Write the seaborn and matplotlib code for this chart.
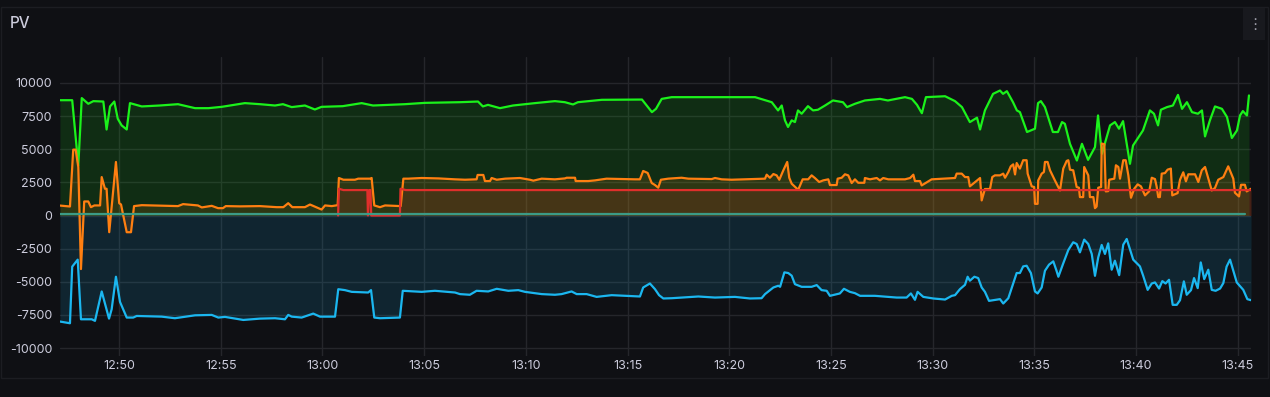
import pandas as pd
import matplotlib
matplotlib.use("Agg")
import matplotlib.pyplot as plt
import matplotlib.dates as mdates
from matplotlib.patches import Rectangle
import seaborn as sns

# time in minutes after 12:45, values in W
green_t = [2.10, 2.70, 3.00, 3.17, 3.49, 3.74, 4.23, 4.39, 4.56, 4.77, 4.94, 5.13, 5.38, 5.54,
           6.12, 7.00, 7.90, 8.74, 9.40, 10.05, 11.19, 11.93, 12.67, 13.06, 13.49, 14.14, 14.63,
           14.96, 16.00, 16.93, 17.49, 19.06, 20.04, 21.76, 22.65, 22.89, 23.14, 23.73, 24.37,
           25.45, 26.43, 26.92, 27.32, 27.56, 28.74, 30.71, 31.00, 31.20, 31.40, 31.68, 32.17,
           36.27, 37.09, 37.40, 37.58, 37.74, 37.89, 38.07, 38.23, 38.38, 38.56, 38.87, 39.12,
           39.36, 39.71, 40.10, 40.59, 40.79, 41.18, 41.67, 42.41, 42.80, 43.64, 43.98, 44.23,
           44.47, 44.67, 45.61, 46.10, 46.44, 46.83, 47.18, 47.33, 47.57, 47.97, 48.31, 48.46,
           48.65, 48.95, 49.14, 49.29, 49.64, 50.03, 50.18, 50.32, 50.52, 50.91, 51.16, 51.36,
           51.50, 51.75, 52.09, 52.34, 52.64, 52.98, 53.13, 53.32, 53.72, 53.96, 54.16, 54.36,
           54.70, 54.85, 55.34, 55.68, 55.88, 56.08, 56.22, 56.52, 56.81, 57.06, 57.26, 57.50,
           57.75, 58.04, 58.24, 58.39, 58.63, 58.88, 59.22, 59.47, 59.71, 59.96, 60.11, 60.25,
           60.45, 60.55]
green_v = [8700, 8700, 3780, 8860, 8430, 8630, 8600, 6490, 8230, 8600, 7300, 6800, 6490, 8480,
           8230, 8300, 8400, 8100, 8100, 8200, 8480, 8400, 8300, 8400, 8180, 8300, 8000,
           8200, 8250, 8480, 8300, 8400, 8500, 8550, 8600, 8230, 8350, 8100, 8300,
           8480, 8630, 8550, 8380, 8550, 8730, 8750, 8180, 7800, 8050, 8800, 8930,
           8930, 8550, 7930, 8300, 7180, 6680, 7180, 7050, 7930, 7680, 8250, 7930,
           7980, 8300, 8680, 8550, 8180, 8430, 8680, 8800, 8680, 8930, 8800, 8350,
           7720, 8930, 9000, 8630, 8180, 7050, 7380, 6490, 7930, 9180, 9430, 9180,
           9380, 8550, 7930, 7800, 6300, 6550, 8480, 8630, 8180, 6300, 6300, 7050,
           6920, 5410, 4150, 5410, 4200, 5160, 7550, 4660, 6800, 7050, 6550, 7120,
           3900, 5280, 6420, 7930, 7680, 6800, 7980, 8180, 8300, 9100, 8050, 8550,
           7800, 7680, 7930, 5970, 7180, 8230, 8050, 7430, 5850, 6420, 7550, 7880,
           7550, 9060]

orange_t = [2.10, 2.59, 2.75, 2.87, 3.00, 3.13, 3.29, 3.49, 3.62, 3.79, 4.07, 4.15, 4.31, 4.39,
            4.52, 4.85, 5.01, 5.10, 5.38, 5.59, 5.74, 6.12, 7.90, 8.15, 8.88, 9.07, 9.56, 9.87,
            10.11, 10.25, 10.95, 11.93, 12.75, 13.08, 13.32, 13.52, 14.14, 14.39, 14.96, 15.13,
            15.46, 15.75, 15.81, 16.03, 16.60, 16.76, 17.34, 17.42, 17.55, 17.83, 18.08, 18.85,
            18.98, 19.22, 19.88, 20.70, 21.52, 22.01, 22.58, 22.63, 22.91, 22.99, 23.24, 23.32,
            23.57, 23.98, 24.71, 25.20, 25.37, 25.78, 26.43, 26.92, 27.01, 27.42, 27.45, 28.07,
            28.40, 28.97, 30.37, 30.61, 30.77, 30.99, 31.19, 31.35, 31.51, 31.64, 32.00, 32.66,
            32.99, 34.14, 34.30, 34.63, 35.12, 35.77, 36.76, 36.84, 37.00, 37.17, 37.33, 37.46,
            37.66, 37.85, 37.95, 38.07, 38.39, 38.61, 38.88, 39.05, 39.21, 39.42, 39.62, 39.87,
            39.95, 40.28, 40.33, 40.53, 40.69, 40.85, 41.02, 41.18, 41.34, 41.64, 41.67, 41.92,
            42.25, 42.41, 42.57, 42.82, 43.64, 43.89, 44.05, 44.13, 44.38, 44.46, 44.95, 45.52,
            46.10, 46.18, 46.43, 46.59, 46.75, 46.83, 47.33, 47.41, 47.57, 47.82, 47.93, 48.06,
            48.31, 48.47, 48.56, 48.72, 48.84, 48.96, 49.05, 49.13, 49.29, 49.45, 49.62, 49.67,
            49.87, 49.99, 50.03, 50.16, 50.19, 50.36, 50.47, 50.52, 50.65, 50.77, 51.01, 51.26,
            51.42, 51.59, 51.67, 51.75, 51.91, 52.08, 52.19, 52.24, 52.40, 52.45, 52.65, 52.73,
            52.90, 52.98, 53.06, 53.14, 53.28, 53.31, 53.44, 53.51, 53.63, 53.68, 53.93, 54.01,
            54.13, 54.21, 54.37, 54.49, 54.62, 54.75, 54.91, 55.08, 55.24, 55.44, 55.65, 55.77,
            55.93, 56.01, 56.09, 56.17, 56.26, 56.42, 56.55, 56.71, 56.78, 57.04, 57.16, 57.32,
            57.45, 57.57, 57.90, 58.06, 58.23, 58.39, 58.72, 58.88, 59.04, 59.29, 59.53, 59.78,
            59.86, 60.06, 60.16, 60.35, 60.44, 60.65]
orange_v = [750, 680, 4970, 4970, 3660, -4040, 1060, 1060, 630, 760, 760, 2900, 2020, 2020,
            -1260, 4040, 930, 830, -1260, -1260, 710, 780, 710, 860, 760, 610, 730, 555,
            555, 710, 690, 710, 630, 630, 930, 630, 630, 830, 450, 760,
            710, 780, 2830, 2700, 2700, 2780, 2780, 2830, 760, 630, 760, 710,
            2780, 2780, 2830, 2800, 2730, 2700, 2730, 3060, 3060, 2600, 2600, 2830,
            2700, 2780, 2830, 2700, 2630, 2780, 2730, 2800, 2850, 2850, 2600, 2600,
            2650, 2780, 2730, 2730, 3360, 3210, 2450, 2300, 2100, 2700, 2780, 2850,
            2780, 2750, 2830, 2730, 2700, 2730, 2780, 3080, 2850, 3130, 3030, 2700,
            3410, 4040, 2850, 2400, 1940, 2730, 2730, 3030, 2830, 2530, 2650, 2730,
            2300, 2300, 2780, 2850, 3110, 3030, 2450, 2730, 2470, 2470, 2830, 2730,
            2830, 2650, 2830, 2730, 2730, 2830, 3080, 2600, 2600, 2270, 2730, 2780,
            2830, 3160, 3160, 2900, 2900, 2200, 2830, 1140, 2000, 2000, 2900, 3030,
            3030, 3160, 2850, 3280, 3710, 3860, 3100, 3960, 3540, 4170, 4170, 3160,
            2200, 2150, 880, 880, 2650, 3160, 3280, 4040, 4040, 3410, 2650, 1890,
            3540, 4120, 4170, 3460, 3410, 2150, 2100, 1390, 1390, 3660, 3030, 1390,
            1390, 555, 680, 2100, 2150, 5430, 5380, 1820, 1840, 2700, 2780, 3790,
            3660, 2780, 4170, 4170, 3030, 1340, 2020, 2350, 2200, 1520, 1840, 2850,
            2750, 2200, 1390, 1390, 3160, 3200, 3460, 3540, 1520, 1690, 2700, 3260,
            2580, 3110, 3110, 2530, 3410, 3660, 1890, 2080, 2700, 2900, 3710, 2780,
            1720, 1440, 2320, 2320, 1820, 2020]

red_t = [15.77, 15.81, 16.03, 17.21, 17.24, 17.30, 17.36, 17.40, 18.81, 18.84, 19.10, 60.65]
red_v = [0, 2020, 1920, 1920, 0, 1920, 1920, 0, 0, 2020, 1920, 1920]

teal_t = [2.10, 10.00, 20.00, 30.00, 40.00, 50.00, 60.35]
teal_v = [80, 80, 80, 80, 80, 80, 80]

blue_t = [2.10, 2.59, 2.70, 2.97, 3.13, 3.66, 3.82, 4.15, 4.51, 4.64, 4.85, 5.05, 5.38, 5.70,
          5.87, 7.10, 7.75, 8.74, 9.56, 9.88, 10.21, 11.11, 11.93, 12.67, 13.16, 13.32, 13.49,
          13.98, 14.55, 14.88, 15.62, 15.78, 16.11, 16.44, 17.25, 17.39, 17.55, 17.83, 18.81,
          18.95, 19.88, 20.53, 21.52, 21.76, 22.25, 22.58, 23.15, 23.57, 24.14, 24.63, 24.96,
          25.78, 26.43, 26.76, 27.25, 27.50, 27.99, 28.48, 29.22, 30.61, 30.77, 31.10, 31.35,
          31.55, 31.76, 32.17, 33.48, 34.30, 35.28, 36.02, 36.59, 36.76, 37.17, 37.41, 37.50,
          37.71, 37.90, 38.07, 38.23, 38.56, 39.05, 39.30, 39.54, 39.79, 39.95, 40.44, 40.64,
          40.93, 41.18, 41.43, 42.16, 43.23, 43.72, 43.93, 44.13, 44.26, 44.54, 45.03, 45.61,
          45.94, 46.10, 46.34, 46.59, 46.72, 46.83, 47.05, 47.24, 47.41, 47.57, 47.77, 48.31,
          48.47, 48.72, 48.96, 49.13, 49.29, 49.45, 49.62, 49.83, 50.03, 50.16, 50.36, 50.52,
          50.72, 50.93, 51.09, 51.18, 51.42, 51.67, 51.91, 52.08, 52.24, 52.45, 52.65, 52.82,
          52.98, 53.14, 53.31, 53.47, 53.63, 53.80, 53.96, 54.17, 54.37, 54.54, 54.86, 55.19,
          55.35, 55.57, 55.77, 55.93, 56.13, 56.29, 56.45, 56.62, 56.80, 57.00, 57.16, 57.35,
          57.49, 57.70, 57.85, 58.03, 58.18, 58.35, 58.55, 58.72, 58.91, 59.13, 59.29, 59.45,
          59.62, 59.95, 60.27, 60.47, 60.65]
blue_v = [-8000, -8130, -3860, -3330, -7830, -7830, -7950, -5730, -7780, -7070, -4620, -6520, -7700, -7700,
          -7580, -7630, -7750, -7530, -7500, -7700, -7650, -7880, -7780, -7750, -7830, -7500, -7630,
          -7700, -7400, -7630, -7630, -5560, -5630, -5760, -5810, -5630, -7700, -7750, -7700,
          -5680, -5760, -5680, -5810, -5930, -5980, -5680, -5730, -5530, -5680, -5630, -5760,
          -5930, -5980, -5930, -5730, -5930, -5930, -6140, -6010, -6110, -5430, -5130, -5560,
          -6010, -6260, -6240, -6110, -6190, -6140, -6260, -6240, -5930, -5430, -5300, -5380,
          -4290, -4340, -4540, -5180, -5380, -5380, -5250, -5630, -5680, -6060, -5880, -5530,
          -5760, -5860, -6060, -6060, -6190, -6190, -5880, -6360, -5760, -6140, -6260, -6340,
          -6060, -6010, -5560, -5230, -4620, -4920, -4620, -4720, -5430, -5760, -6440, -6310,
          -6640, -6240, -5130, -4340, -4340, -3840, -3790, -4340, -5730, -5880, -5430, -4170,
          -3710, -3460, -4170, -4620, -3610, -2600, -2020, -2150, -2780, -1820, -2150, -2900,
          -4550, -3160, -2220, -2900, -2100, -4090, -3410, -4500, -2200, -1770, -3330, -3840,
          -4550, -5610, -5130, -5050, -5510, -4950, -5130, -4850, -6740, -6740, -6390, -4970,
          -5980, -5630, -4720, -5480, -3540, -4800, -4090, -5610, -5680, -5510, -5100, -3860,
          -3330, -5050, -5610, -6310, -6390]

y_ticks = [-10000, -7500, -5000, -2500, 0, 2500, 5000, 7500, 10000]

BG = "#0f1014"
TEXT = "#ccccdc"
GRID = "#25262b"
BASE = pd.Timestamp("2024-06-01 12:45:00")


def to_frame(t, v):
    return pd.DataFrame({"time": BASE + pd.to_timedelta(t, unit="m"), "value": v})


sns.set_theme(style="dark")
plt.rcParams["font.family"] = ["Inter", "DejaVu Sans"]

fig = plt.figure(figsize=(12.7, 3.97), dpi=100, facecolor=BG)
# panel frame and menu button
fig.patches.append(Rectangle((1 / 1270, 1 - 378 / 397), 1267 / 1270, 371 / 397,
                             transform=fig.transFigure, fill=False, edgecolor="#1c1d22",
                             linewidth=1, zorder=-1))
fig.patches.append(Rectangle((1243 / 1270, 1 - 40 / 397), 22 / 1270, 32 / 397,
                             transform=fig.transFigure, facecolor="#18191e", edgecolor="none",
                             zorder=1))
fig.text(1255 / 1270, 1 - 24 / 397, "⋮", color="#9a9aa5", fontsize=11, ha="center", va="center",
         family=["DejaVu Sans"])
fig.text(10 / 1270, 1 - 24 / 397, "PV", color=TEXT, fontsize=11, ha="left", va="center",
         fontweight="medium")

ax = fig.add_axes([60 / 1270, 1 - 356 / 397, 1191 / 1270, 299 / 397])
ax.set_zorder(5)
ax.set_facecolor(BG)

series = [
    (blue_t, blue_v, "#1bb7f0"),
    (green_t, green_v, "#1bf21b"),
    (orange_t, orange_v, "#ff7f11"),
    (red_t, red_v, "#e02f2b"),
    (teal_t, teal_v, "#3c9b86"),
]
for t, v, color in series:
    df = to_frame(t, v)
    ax.fill_between(df["time"], df["value"], 0, color=color, alpha=0.13, linewidth=0)
    sns.lineplot(data=df, x="time", y="value", color=color, linewidth=1.6,
                 estimator=None, sort=False, ax=ax)

ax.set_xlim(BASE + pd.Timedelta(minutes=2.10), BASE + pd.Timedelta(minutes=60.65))
ax.set_ylim(-10600, 11960)
ax.set_yticks(y_ticks)
ax.set_yticklabels([str(v) for v in y_ticks])
ax.xaxis.set_major_locator(mdates.MinuteLocator(byminute=range(0, 60, 5)))
ax.xaxis.set_major_formatter(mdates.DateFormatter("%H:%M"))
ax.grid(True, color=GRID, linewidth=1)
ax.set_axisbelow(True)
for s in ax.spines.values():
    s.set_visible(False)
ax.tick_params(axis="both", colors=TEXT, labelsize=9, length=0)
ax.tick_params(axis="y", pad=5.5)
ax.tick_params(axis="x", pad=3)
ax.set_xlabel("")
ax.set_ylabel("")

fig.savefig("out.png", dpi=100, facecolor=BG)
